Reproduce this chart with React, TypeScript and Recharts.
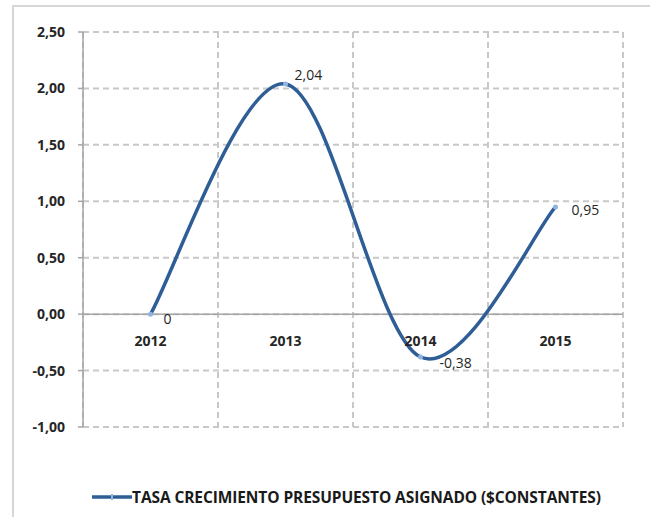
import React from "react";
import { LineChart, Line, XAxis, YAxis, CartesianGrid, ReferenceLine, LabelList, Legend } from "recharts";

const years = ["2012", "2013", "2014", "2015"];
const tasa = [0, 2.04, -0.38, 0.95];
const yTicks = [-1, -0.5, 0, 0.5, 1, 1.5, 2, 2.5];
const seriesName = "TASA CRECIMIENTO PRESUPUESTO ASIGNADO ($CONSTANTES)";

// label placement offsets (style, not data)
const labelOffsets = [
  { dx: 13, dy: 4 },
  { dx: 9, dy: -9 },
  { dx: 19, dy: 5 },
  { dx: 16, dy: 3 },
];

const data = years.map((year, i) => ({ year, tasa: tasa[i], base: 0 }));

const LINE_COLOR = "#2f5e97";
const FONT = "'Open Sans', 'DejaVu Sans', sans-serif";

// Excel-like smoothed curve (Catmull-Rom as cubic Bezier)
function excelSmooth(context: any) {
  let pts: number[][] = [];
  return {
    areaStart() {},
    areaEnd() {},
    lineStart() {
      pts = [];
    },
    point(x: number, y: number) {
      pts.push([+x, +y]);
    },
    lineEnd() {
      const n = pts.length;
      if (!n) return;
      context.moveTo(pts[0][0], pts[0][1]);
      for (let i = 0; i < n - 1; i++) {
        const p0 = pts[Math.max(i - 1, 0)];
        const p1 = pts[i];
        const p2 = pts[i + 1];
        const p3 = pts[Math.min(i + 2, n - 1)];
        context.bezierCurveTo(
          p1[0] + (p2[0] - p0[0]) / 6,
          p1[1] + (p2[1] - p0[1]) / 6,
          p2[0] - (p3[0] - p1[0]) / 6,
          p2[1] - (p3[1] - p1[1]) / 6,
          p2[0],
          p2[1]
        );
      }
    },
  };
}

const fmt = (v: number) => (Math.round(v * 100) / 100).toFixed(2).replace(".", ",");
const fmtLabel = (v: number) => String(v).replace(".", ",");

const ValueLabel = (props: any) => {
  const { x, y, value, index } = props;
  const o = labelOffsets[index] || { dx: 10, dy: 0 };
  return (
    <text
      x={x + o.dx}
      y={y + o.dy}
      dominantBaseline="central"
      textAnchor="start"
      fontFamily={FONT}
      fontSize={14}
      fontWeight={500}
      fill="#262626"
    >
      {fmtLabel(value)}
    </text>
  );
};

const YearLabel = (props: any) => {
  const { x, y, value } = props;
  return (
    <text
      x={x}
      y={y + 26}
      dominantBaseline="central"
      textAnchor="middle"
      fontFamily={FONT}
      fontSize={14}
      fontWeight={700}
      fill="#262626"
    >
      {value}
    </text>
  );
};

const renderLegend = () => (
  <div style={{ display: "flex", alignItems: "center", height: 20 }}>
    <svg width={42} height={20} style={{ display: "block" }}>
      <line x1={2} y1={10} x2={42} y2={10} stroke={LINE_COLOR} strokeWidth={3.5} />
      <line x1={22} y1={7} x2={22} y2={13} stroke="#8fb4e0" strokeWidth={2} />
    </svg>
    <span
      style={{
        fontFamily: FONT,
        fontSize: 15.5,
        fontWeight: 700,
        color: "#1a1a1a",
        whiteSpace: "nowrap",
        letterSpacing: -0.1,
      }}
    >
      {seriesName}
    </span>
  </div>
);

export default function App() {
  return (
    <div
      style={{
        position: "fixed",
        left: 0,
        top: 0,
        width: 650,
        height: 517,
        overflow: "hidden",
        background: "#fff",
      }}
    >
      <div
        style={{
          position: "absolute",
          left: 12,
          top: 5,
          width: 700,
          height: 600,
          border: "2px solid #d6d6d6",
        }}
      />
      <div style={{ position: "absolute", left: 0, top: 0 }}>
        <LineChart width={650} height={517} data={data} margin={{ top: 32, right: 27, bottom: 90, left: 0 }}>
          <CartesianGrid
            stroke="#c8c8c8"
            strokeWidth={2}
            strokeDasharray="6 4"
            verticalCoordinatesGenerator={({ offset }: any) =>
              [0, 1, 2, 3, 4].map((i) => offset.left + (i * offset.width) / years.length)
            }
          />
          <XAxis dataKey="year" hide scale="band" />
          <YAxis
            width={83}
            domain={[-1, 2.5]}
            ticks={yTicks}
            tickFormatter={fmt}
            axisLine={{ stroke: "#a6a6a6", strokeWidth: 1.5 }}
            tickLine={{ stroke: "#a6a6a6", strokeWidth: 1.5 }}
            tickSize={5}
            tickMargin={13}
            tick={{ fontFamily: FONT, fontSize: 14, fontWeight: 700, fill: "#262626" }}
            interval={0}
          />
          <ReferenceLine y={0} stroke="#a6a6a6" strokeWidth={1.5} />
          <Line
            dataKey="base"
            stroke="none"
            dot={false}
            activeDot={false}
            legendType="none"
            isAnimationActive={false}
          >
            <LabelList dataKey="year" content={YearLabel} />
          </Line>
          <Line
            dataKey="tasa"
            name={seriesName}
            type={excelSmooth as any}
            stroke={LINE_COLOR}
            strokeWidth={3.5}
            dot={{ r: 2.5, fill: "#8fb4e0", stroke: "none" }}
            activeDot={false}
            isAnimationActive={false}
          >
            <LabelList dataKey="tasa" content={ValueLabel} />
          </Line>
          <Legend
            layout="horizontal"
            verticalAlign="middle"
            align="center"
            wrapperStyle={{ top: 487, left: 90, width: 560, height: 20 }}
            content={renderLegend}
          />
        </LineChart>
      </div>
    </div>
  );
}
